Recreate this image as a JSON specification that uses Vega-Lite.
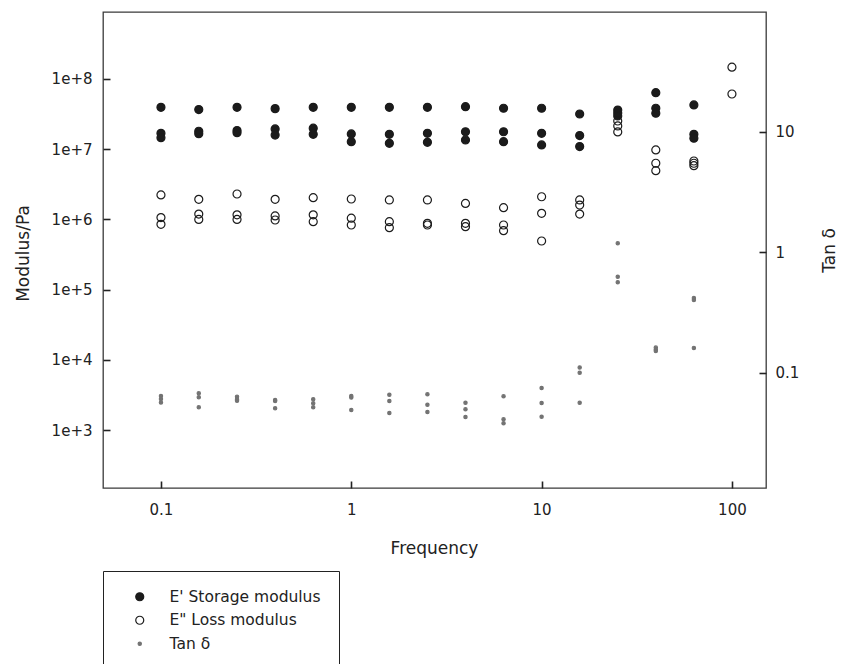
{
  "$schema": "https://vega.github.io/schema/vega-lite/v6.json",
  "width": 663,
  "height": 476,
  "autosize": "none",
  "padding": {"left": 103, "top": 12, "right": 76, "bottom": 176},
  "background": "white",
  "config": {
    "font": "DejaVu Sans",
    "view": {"stroke": "#3a3a3a", "strokeWidth": 1.3},
    "axis": {
      "grid": false,
      "domain": false,
      "offset": -7,
      "tickSize": 7,
      "tickWidth": 1.6,
      "tickColor": "#222222",
      "labelFont": "DejaVu Sans",
      "labelFontSize": 15,
      "labelColor": "#222222",
      "titleFont": "DejaVu Sans",
      "titleFontSize": 17,
      "titleFontWeight": "normal",
      "titleColor": "#222222",
      "titleBaseline": "middle"
    }
  },
  "data": {
    "values": [
      {"freq": 0.1, "series": "E' Storage modulus", "value": 3.95e7},
      {"freq": 0.1, "series": "E' Storage modulus", "value": 1.68e7},
      {"freq": 0.1, "series": "E' Storage modulus", "value": 1.46e7},
      {"freq": 0.158, "series": "E' Storage modulus", "value": 3.66e7},
      {"freq": 0.158, "series": "E' Storage modulus", "value": 1.80e7},
      {"freq": 0.158, "series": "E' Storage modulus", "value": 1.66e7},
      {"freq": 0.251, "series": "E' Storage modulus", "value": 3.95e7},
      {"freq": 0.251, "series": "E' Storage modulus", "value": 1.84e7},
      {"freq": 0.251, "series": "E' Storage modulus", "value": 1.72e7},
      {"freq": 0.398, "series": "E' Storage modulus", "value": 3.78e7},
      {"freq": 0.398, "series": "E' Storage modulus", "value": 1.94e7},
      {"freq": 0.398, "series": "E' Storage modulus", "value": 1.59e7},
      {"freq": 0.631, "series": "E' Storage modulus", "value": 3.95e7},
      {"freq": 0.631, "series": "E' Storage modulus", "value": 1.99e7},
      {"freq": 0.631, "series": "E' Storage modulus", "value": 1.63e7},
      {"freq": 1, "series": "E' Storage modulus", "value": 3.95e7},
      {"freq": 1, "series": "E' Storage modulus", "value": 1.65e7},
      {"freq": 1, "series": "E' Storage modulus", "value": 1.28e7},
      {"freq": 1.585, "series": "E' Storage modulus", "value": 3.95e7},
      {"freq": 1.585, "series": "E' Storage modulus", "value": 1.63e7},
      {"freq": 1.585, "series": "E' Storage modulus", "value": 1.21e7},
      {"freq": 2.512, "series": "E' Storage modulus", "value": 3.95e7},
      {"freq": 2.512, "series": "E' Storage modulus", "value": 1.68e7},
      {"freq": 2.512, "series": "E' Storage modulus", "value": 1.25e7},
      {"freq": 3.981, "series": "E' Storage modulus", "value": 4.03e7},
      {"freq": 3.981, "series": "E' Storage modulus", "value": 1.77e7},
      {"freq": 3.981, "series": "E' Storage modulus", "value": 1.35e7},
      {"freq": 6.31, "series": "E' Storage modulus", "value": 3.83e7},
      {"freq": 6.31, "series": "E' Storage modulus", "value": 1.77e7},
      {"freq": 6.31, "series": "E' Storage modulus", "value": 1.28e7},
      {"freq": 10, "series": "E' Storage modulus", "value": 3.83e7},
      {"freq": 10, "series": "E' Storage modulus", "value": 1.68e7},
      {"freq": 10, "series": "E' Storage modulus", "value": 1.15e7},
      {"freq": 15.85, "series": "E' Storage modulus", "value": 3.17e7},
      {"freq": 15.85, "series": "E' Storage modulus", "value": 1.56e7},
      {"freq": 15.85, "series": "E' Storage modulus", "value": 1.09e7},
      {"freq": 25.12, "series": "E' Storage modulus", "value": 3.61e7},
      {"freq": 25.12, "series": "E' Storage modulus", "value": 3.28e7},
      {"freq": 25.12, "series": "E' Storage modulus", "value": 2.97e7},
      {"freq": 39.81, "series": "E' Storage modulus", "value": 6.38e7},
      {"freq": 39.81, "series": "E' Storage modulus", "value": 3.83e7},
      {"freq": 39.81, "series": "E' Storage modulus", "value": 3.25e7},
      {"freq": 63.1, "series": "E' Storage modulus", "value": 4.27e7},
      {"freq": 63.1, "series": "E' Storage modulus", "value": 1.63e7},
      {"freq": 63.1, "series": "E' Storage modulus", "value": 1.43e7},

      {"freq": 0.1, "series": "E\" Loss modulus", "value": 2.23e6},
      {"freq": 0.1, "series": "E\" Loss modulus", "value": 1.06e6},
      {"freq": 0.1, "series": "E\" Loss modulus", "value": 8.5e5},
      {"freq": 0.158, "series": "E\" Loss modulus", "value": 1.93e6},
      {"freq": 0.158, "series": "E\" Loss modulus", "value": 1.19e6},
      {"freq": 0.158, "series": "E\" Loss modulus", "value": 1.0e6},
      {"freq": 0.251, "series": "E\" Loss modulus", "value": 2.30e6},
      {"freq": 0.251, "series": "E\" Loss modulus", "value": 1.16e6},
      {"freq": 0.251, "series": "E\" Loss modulus", "value": 1.0e6},
      {"freq": 0.398, "series": "E\" Loss modulus", "value": 1.93e6},
      {"freq": 0.398, "series": "E\" Loss modulus", "value": 1.12e6},
      {"freq": 0.398, "series": "E\" Loss modulus", "value": 9.8e5},
      {"freq": 0.631, "series": "E\" Loss modulus", "value": 2.04e6},
      {"freq": 0.631, "series": "E\" Loss modulus", "value": 1.16e6},
      {"freq": 0.631, "series": "E\" Loss modulus", "value": 9.27e5},
      {"freq": 1, "series": "E\" Loss modulus", "value": 1.95e6},
      {"freq": 1, "series": "E\" Loss modulus", "value": 1.04e6},
      {"freq": 1, "series": "E\" Loss modulus", "value": 8.32e5},
      {"freq": 1.585, "series": "E\" Loss modulus", "value": 1.89e6},
      {"freq": 1.585, "series": "E\" Loss modulus", "value": 9.27e5},
      {"freq": 1.585, "series": "E\" Loss modulus", "value": 7.62e5},
      {"freq": 2.512, "series": "E\" Loss modulus", "value": 1.89e6},
      {"freq": 2.512, "series": "E\" Loss modulus", "value": 8.79e5},
      {"freq": 2.512, "series": "E\" Loss modulus", "value": 8.32e5},
      {"freq": 3.981, "series": "E\" Loss modulus", "value": 1.69e6},
      {"freq": 3.981, "series": "E\" Loss modulus", "value": 8.79e5},
      {"freq": 3.981, "series": "E\" Loss modulus", "value": 7.87e5},
      {"freq": 6.31, "series": "E\" Loss modulus", "value": 1.47e6},
      {"freq": 6.31, "series": "E\" Loss modulus", "value": 8.32e5},
      {"freq": 6.31, "series": "E\" Loss modulus", "value": 6.9e5},
      {"freq": 10, "series": "E\" Loss modulus", "value": 2.10e6},
      {"freq": 10, "series": "E\" Loss modulus", "value": 1.22e6},
      {"freq": 10, "series": "E\" Loss modulus", "value": 4.92e5},
      {"freq": 15.85, "series": "E\" Loss modulus", "value": 1.89e6},
      {"freq": 15.85, "series": "E\" Loss modulus", "value": 1.60e6},
      {"freq": 15.85, "series": "E\" Loss modulus", "value": 1.19e6},
      {"freq": 25.12, "series": "E\" Loss modulus", "value": 2.52e7},
      {"freq": 25.12, "series": "E\" Loss modulus", "value": 2.14e7},
      {"freq": 25.12, "series": "E\" Loss modulus", "value": 1.76e7},
      {"freq": 39.81, "series": "E\" Loss modulus", "value": 9.75e6},
      {"freq": 39.81, "series": "E\" Loss modulus", "value": 6.30e6},
      {"freq": 39.81, "series": "E\" Loss modulus", "value": 4.94e6},
      {"freq": 63.1, "series": "E\" Loss modulus", "value": 6.79e6},
      {"freq": 63.1, "series": "E\" Loss modulus", "value": 6.30e6},
      {"freq": 63.1, "series": "E\" Loss modulus", "value": 5.82e6},
      {"freq": 100, "series": "E\" Loss modulus", "value": 1.47e8},
      {"freq": 100, "series": "E\" Loss modulus", "value": 6.11e7},

      {"freq": 0.1, "series": "Tan δ", "value": 0.0638},
      {"freq": 0.1, "series": "Tan δ", "value": 0.0603},
      {"freq": 0.1, "series": "Tan δ", "value": 0.0564},
      {"freq": 0.158, "series": "Tan δ", "value": 0.0672},
      {"freq": 0.158, "series": "Tan δ", "value": 0.0623},
      {"freq": 0.158, "series": "Tan δ", "value": 0.0514},
      {"freq": 0.251, "series": "Tan δ", "value": 0.0630},
      {"freq": 0.251, "series": "Tan δ", "value": 0.0600},
      {"freq": 0.251, "series": "Tan δ", "value": 0.0583},
      {"freq": 0.398, "series": "Tan δ", "value": 0.0591},
      {"freq": 0.398, "series": "Tan δ", "value": 0.0580},
      {"freq": 0.398, "series": "Tan δ", "value": 0.0504},
      {"freq": 0.631, "series": "Tan δ", "value": 0.0600},
      {"freq": 0.631, "series": "Tan δ", "value": 0.0555},
      {"freq": 0.631, "series": "Tan δ", "value": 0.0514},
      {"freq": 1, "series": "Tan δ", "value": 0.0638},
      {"freq": 1, "series": "Tan δ", "value": 0.0620},
      {"freq": 1, "series": "Tan δ", "value": 0.0489},
      {"freq": 1.585, "series": "Tan δ", "value": 0.0654},
      {"freq": 1.585, "series": "Tan δ", "value": 0.0580},
      {"freq": 1.585, "series": "Tan δ", "value": 0.0461},
      {"freq": 2.512, "series": "Tan δ", "value": 0.0659},
      {"freq": 2.512, "series": "Tan δ", "value": 0.0541},
      {"freq": 2.512, "series": "Tan δ", "value": 0.0470},
      {"freq": 3.981, "series": "Tan δ", "value": 0.0561},
      {"freq": 3.981, "series": "Tan δ", "value": 0.0495},
      {"freq": 3.981, "series": "Tan δ", "value": 0.0427},
      {"freq": 6.31, "series": "Tan δ", "value": 0.0634},
      {"freq": 6.31, "series": "Tan δ", "value": 0.0409},
      {"freq": 6.31, "series": "Tan δ", "value": 0.0379},
      {"freq": 10, "series": "Tan δ", "value": 0.0744},
      {"freq": 10, "series": "Tan δ", "value": 0.0558},
      {"freq": 10, "series": "Tan δ", "value": 0.0430},
      {"freq": 15.85, "series": "Tan δ", "value": 0.110},
      {"freq": 15.85, "series": "Tan δ", "value": 0.0996},
      {"freq": 15.85, "series": "Tan δ", "value": 0.0561},
      {"freq": 25.12, "series": "Tan δ", "value": 1.18},
      {"freq": 25.12, "series": "Tan δ", "value": 0.624},
      {"freq": 25.12, "series": "Tan δ", "value": 0.561},
      {"freq": 39.81, "series": "Tan δ", "value": 0.161},
      {"freq": 39.81, "series": "Tan δ", "value": 0.155},
      {"freq": 39.81, "series": "Tan δ", "value": 0.151},
      {"freq": 63.1, "series": "Tan δ", "value": 0.415},
      {"freq": 63.1, "series": "Tan δ", "value": 0.400},
      {"freq": 63.1, "series": "Tan δ", "value": 0.160}
    ]
  },
  "encoding": {
    "x": {
      "field": "freq",
      "type": "quantitative",
      "scale": {"type": "log", "domain": [0.0496, 151], "nice": false},
      "axis": {
        "values": [0.1, 1, 10, 100],
        "format": "~g",
        "labelPadding": 14,
        "title": "Frequency",
        "titleX": 331,
        "titleY": 67
      }
    },
    "fill": {
      "field": "series",
      "type": "nominal",
      "scale": {
        "domain": ["E' Storage modulus", "E\" Loss modulus", "Tan δ"],
        "range": ["#1b1b1b", "transparent", "#737373"]
      },
      "legend": {
        "title": null,
        "orient": "none",
        "legendX": 0,
        "legendY": 559,
        "strokeColor": "#222222",
        "fillColor": "white",
        "padding": 18,
        "rowPadding": 6.5,
        "symbolOffset": 11,
        "labelOffset": 22,
        "labelFont": "DejaVu Sans",
        "labelFontSize": 15.5,
        "labelColor": "#222222",
        "labelLimit": 300,
        "symbolStrokeWidth": 1.2
      }
    },
    "stroke": {
      "field": "series",
      "type": "nominal",
      "scale": {
        "domain": ["E' Storage modulus", "E\" Loss modulus", "Tan δ"],
        "range": ["#1b1b1b", "#1b1b1b", "#737373"]
      },
      "legend": {
        "title": null,
        "orient": "none",
        "legendX": 0,
        "legendY": 559
      }
    },
    "size": {
      "field": "series",
      "type": "nominal",
      "scale": {
        "type": "ordinal",
        "domain": ["E' Storage modulus", "E\" Loss modulus", "Tan δ"],
        "range": [64, 64, 11]
      },
      "legend": {
        "title": null,
        "orient": "none",
        "legendX": 0,
        "legendY": 559
      }
    }
  },
  "layer": [
    {
      "transform": [{"filter": "datum.series !== 'Tan δ'"}],
      "mark": {"type": "point", "shape": "circle", "opacity": 1, "strokeWidth": 1.2},
      "encoding": {
        "y": {
          "field": "value",
          "type": "quantitative",
          "scale": {"type": "log", "domain": [149.3, 8.99e8], "nice": false},
          "axis": {
            "orient": "left",
            "values": [1000, 10000, 100000, 1000000, 10000000, 100000000],
            "labelExpr": "'1e+' + round(log(datum.value) / LN10)",
            "labelPadding": 11,
            "title": "Modulus/Pa",
            "titleX": -87,
            "titleY": 241
          }
        }
      }
    },
    {
      "transform": [{"filter": "datum.series === 'Tan δ'"}],
      "mark": {"type": "point", "shape": "circle", "opacity": 1, "strokeWidth": 1.2},
      "encoding": {
        "y": {
          "field": "value",
          "type": "quantitative",
          "scale": {"type": "log", "domain": [0.011, 98.2], "nice": false},
          "axis": {
            "orient": "right",
            "values": [0.1, 1, 10],
            "format": "~g",
            "labelPadding": 9,
            "title": "Tan δ",
            "titleAngle": 270,
            "titleX": 70,
            "titleY": 238
          }
        }
      }
    }
  ],
  "resolve": {"scale": {"y": "independent"}}
}
